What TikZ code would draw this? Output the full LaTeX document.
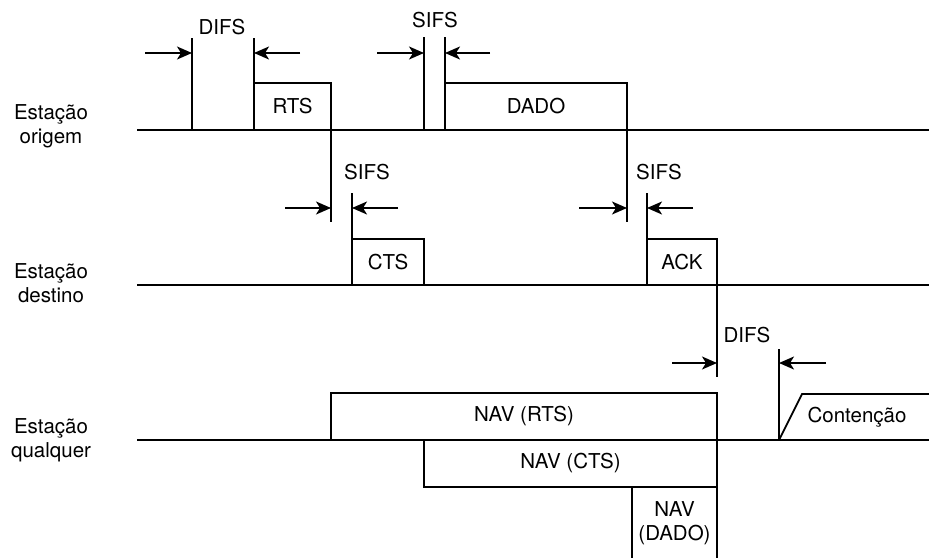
\documentclass[tikz,border=0pt]{standalone}
\usepackage{fontspec}
\setmainfont{TeX Gyre Heros}
\usetikzlibrary{arrows.meta,positioning}

\begin{document}
\begin{tikzpicture}[
    x=1pt, y=-1pt,
    line width=1.8pt,
    font=\fontsize{20.5}{24}\selectfont,
    frame/.style={
        draw,
        rectangle,
        inner sep=0pt,
        outer sep=0pt,
        anchor=south west,
        align=center
    },
    arrow/.style={
        -{Stealth[length=15pt,width=13pt,inset=4pt]},
        line width=1.6pt
    },
    station/.style={
        align=center
    }
]

\clip (0,0) rectangle (929,557);
\fill[white] (0,0) rectangle (929,557);

% linhas de tempo
\coordinate (o0) at (137,130);
\coordinate (o1) at (929,130);
\coordinate (d0) at (137,285);
\coordinate (d1) at (929,285);
\coordinate (q0) at (137,440);
\coordinate (q1) at (929,440);
\draw (o0) -- (o1);
\draw (d0) -- (d1);
\draw (q0) -- (q1);

\node[station] (origem) at (51,126) {Estação\\origem};
\node[station] (destino) at (51,283) {Estação\\destino};
\node[station] (qualquer) at (51,440) {Estação\\qualquer};

% quadros
\node[frame, minimum width=77, minimum height=47] (rts) at (254,130) {RTS};
\node[frame, minimum width=182, minimum height=47] (dado) at (445,130) {DADO};
\node[frame, minimum width=72, minimum height=46] (cts) at (352,285) {CTS};
\node[frame, minimum width=70, minimum height=46] (ack) at (647,285) {ACK};

% DIFS antes do RTS
\coordinate (difsA) at (192,38);
\coordinate (difsB) at (254,38);
\coordinate (difsAl) at (145,53);
\coordinate (difsBr) at (300,53);
\draw (difsA) -- (difsA |- o0);
\draw (difsB) -- (rts.north west);
\draw[arrow] (difsAl) -- (difsAl -| difsA);
\draw[arrow] (difsBr) -- (difsBr -| difsB);
\node (difs1) at (222,27) {DIFS};

% SIFS antes do DADO
\coordinate (sifsA) at (424,37);
\coordinate (sifsB) at (445,37);
\coordinate (sifsAl) at (377,53);
\coordinate (sifsBr) at (490,53);
\draw (sifsA) -- (sifsA |- o0);
\draw (sifsB) -- (dado.north west);
\draw[arrow] (sifsAl) -- (sifsAl -| sifsA);
\draw[arrow] (sifsBr) -- (sifsBr -| sifsB);
\node (sifs1) at (435,20) {SIFS};

% SIFS antes do CTS
\coordinate (sifsC) at (331,222);
\coordinate (sifsD) at (352,193);
\coordinate (sifsCl) at (285,208);
\coordinate (sifsDr) at (398,208);
\draw (rts.south east) -- (sifsC);
\draw (sifsD) -- (cts.north west);
\draw[arrow] (sifsCl) -- (sifsCl -| sifsC);
\draw[arrow] (sifsDr) -- (sifsDr -| sifsD);
\node (sifs2) at (367,172) {SIFS};

% SIFS antes do ACK
\coordinate (sifsE) at (627,222);
\coordinate (sifsF) at (647,193);
\coordinate (sifsEl) at (579,208);
\coordinate (sifsFr) at (693,208);
\draw (dado.south east) -- (sifsE);
\draw (sifsF) -- (ack.north west);
\draw[arrow] (sifsEl) -- (sifsEl -| sifsE);
\draw[arrow] (sifsFr) -- (sifsFr -| sifsF);
\node (sifs3) at (659,172) {SIFS};

% DIFS depois do ACK
\coordinate (difsC) at (717,377);
\coordinate (difsD) at (779,349);
\coordinate (difsCl) at (672,363);
\coordinate (difsDr) at (826,363);
\draw (ack.north east) -- (difsC);
\draw (difsD) -- (difsD |- q0);
\draw[arrow] (difsCl) -- (difsCl -| difsC);
\draw[arrow] (difsDr) -- (difsDr -| difsD);
\node (difs2) at (747,335) {DIFS};

% NAV
\node[frame, minimum width=386, minimum height=47] (navrts) at (331,440) {NAV (RTS)};
\node[frame, anchor=north west, minimum width=293, minimum height=47] (navcts) at (424,440) {NAV (CTS)};
\node[frame, anchor=north west, minimum width=85, minimum height=72] (navdado) at (632,487) {NAV\\(DADO)};

% contencao
\coordinate (cont0) at (802,394);
\coordinate (cont1) at (929,394);
\draw (difsD |- q0) -- (cont0) -- (cont1);
\node (contencao) at (857,417) {Contenção};

\end{tikzpicture}
\end{document}
